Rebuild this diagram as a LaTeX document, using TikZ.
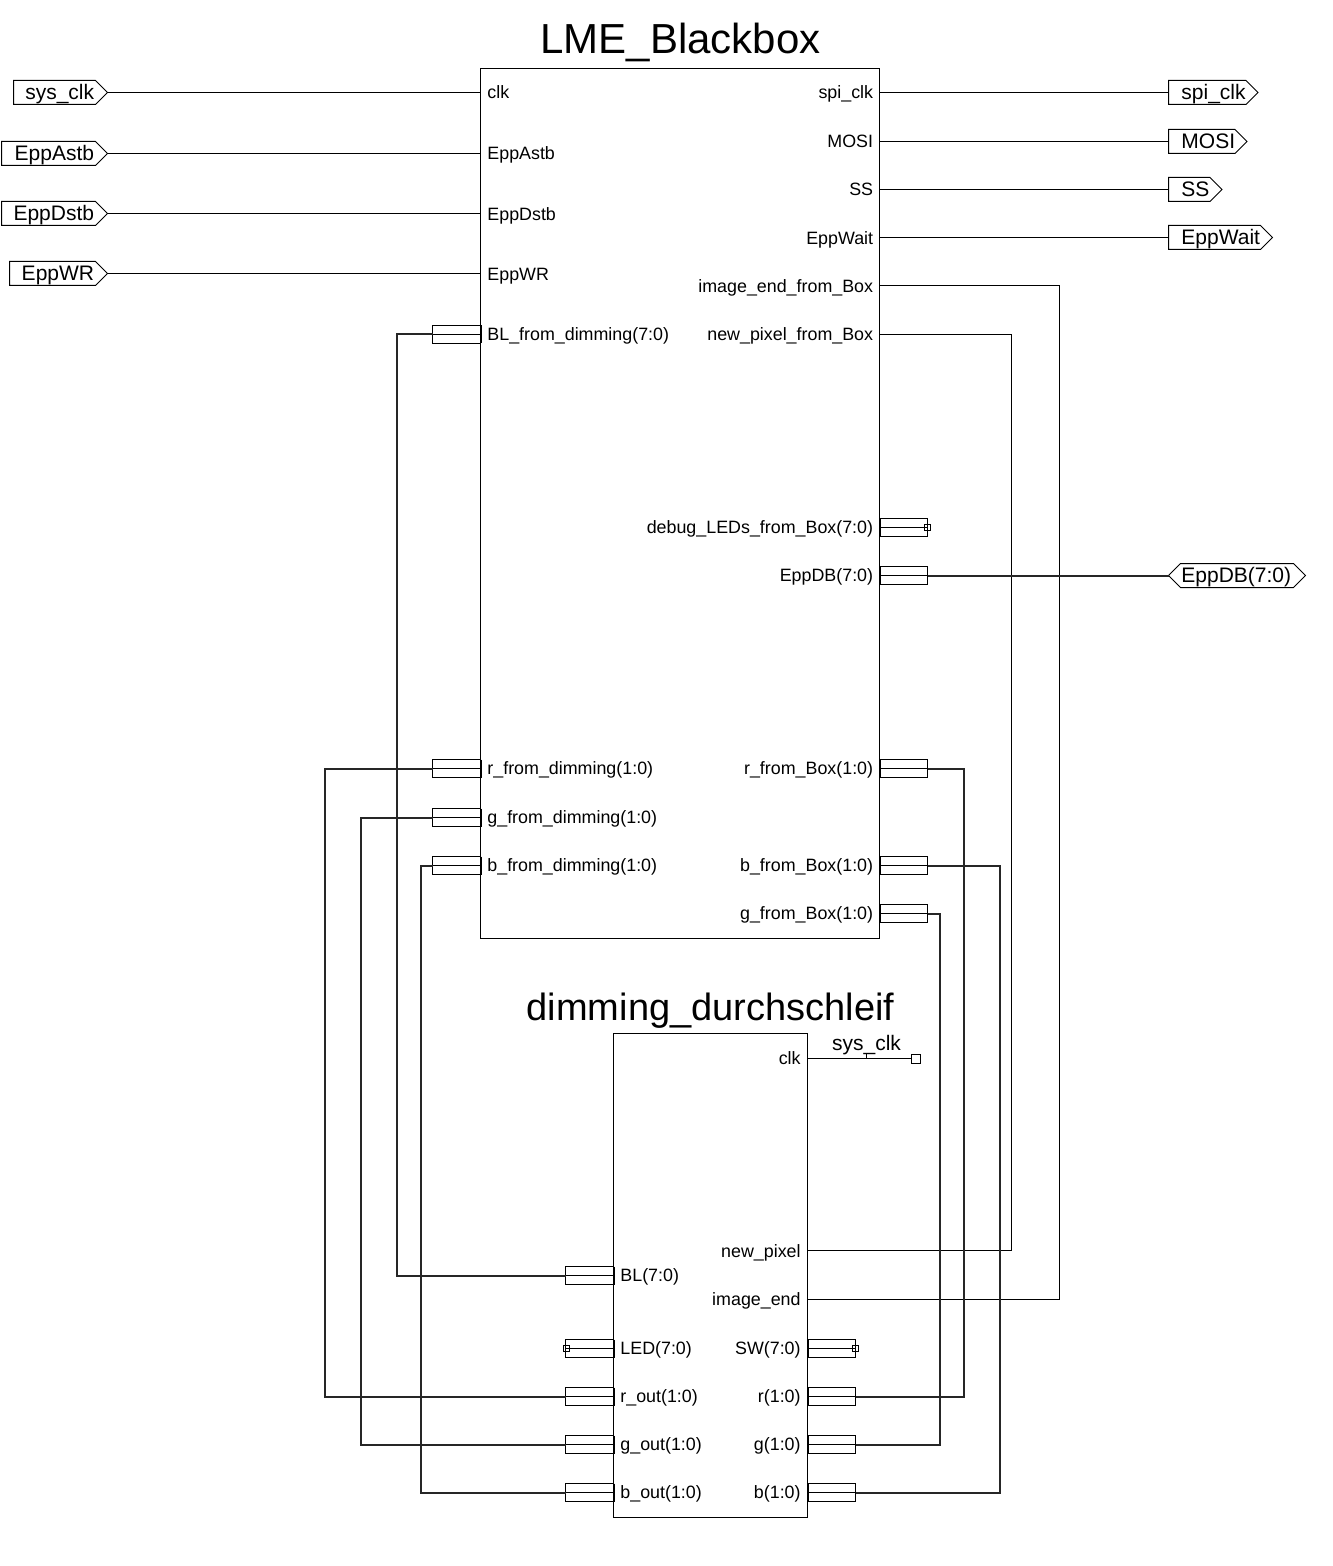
\documentclass[tikz,border=0pt]{standalone}
\usepackage{fontspec}
\setmainfont{Liberation Sans}
\tikzset{
  thinwire/.style={line width=0.5pt,black},
  buswire/.style={line width=1pt,black!85},
  blockbox/.style={draw,line width=0.5pt,inner sep=0pt,outer sep=0pt,fill=white},
  stubbox/.style={draw,line width=0.5pt,inner sep=0pt,outer sep=0pt,minimum width=24pt,minimum height=9pt,fill=white},
  endsq/.style={draw,line width=0.5pt,inner sep=0pt,outer sep=0pt,minimum size=4pt,fill=none},
  flagline/.style={draw,line width=0.5pt,fill=white},
  portL/.style={anchor=base west,inner sep=0pt,font=\fontsize{8.93}{9}\selectfont},
  portR/.style={anchor=base east,inner sep=0pt,font=\fontsize{8.93}{9}\selectfont},
  flagtext/.style={anchor=base,inner sep=0pt,font=\fontsize{10.5}{10.5}\selectfont},
  bigtitle/.style={anchor=base,inner sep=0pt,font=\fontsize{21}{21}\selectfont},
  midtitle/.style={anchor=base,inner sep=0pt,font=\fontsize{19}{19}\selectfont},
}
% stub outside the left edge of a block: #1 name, #2 block edge x, #3 y
\newcommand{\stubL}[3]{%
  \node[stubbox] (#1) at (#2-24.5,#3) {};
  \draw[line width=0.5pt] (#1.west) -- (#1.east);
  \draw[line width=1pt] (#1.north east) -- (#1.south east);
}
% stub outside the right edge of a block
\newcommand{\stubR}[3]{%
  \node[stubbox] (#1) at (#2+24,#3) {};
  \draw[line width=0.5pt] (#1.west) -- (#1.east);
  \draw[line width=1pt] (#1.north west) -- (#1.south west);
}
% input flag: #1 name, #2 left, #3 y, #4 text; tip at 107, text ends at 94
\newcommand{\flagIn}[4]{%
  \draw[flagline] (#2,#3-12) -- (95.5,#3-12) -- (107.5,#3) -- (95.5,#3+12) -- (#2,#3+12) -- cycle;
  \coordinate (#1) at (107.5,#3);
  \node[anchor=base east,inner sep=0pt,font=\fontsize{10.5}{10.5}\selectfont] (#1t) at (94.5,#3+7.5) {#4};
}
% output flag: #1 name, #2 shoulder, #3 y, #4 text; left at 1168
\newcommand{\flagOut}[4]{%
  \draw[flagline] (1168.5,#3-12) -- (#2,#3-12) -- (#2+12,#3) -- (#2,#3+12) -- (1168.5,#3+12) -- cycle;
  \coordinate (#1) at (1168.5,#3);
  \node[anchor=base west,inner sep=0pt,font=\fontsize{10.5}{10.5}\selectfont] (#1t) at (1181,#3+7.5) {#4};
}
\begin{document}
\begin{tikzpicture}[x=0.5pt,y=-0.5pt]
\path[fill=white,use as bounding box] (0,0) rectangle (1332,1566);

% blocks
\node[blockbox,minimum width=199.5pt,minimum height=435pt] (box) at (680,503.5) {};
\node[blockbox,minimum width=97pt,minimum height=242pt] (dim) at (710.5,1275.5) {};
\node[bigtitle] (boxtitle) at (680.5,54) {LME\_Blackbox};
\node[midtitle] (dimtitle) at (710.5,1020) {dimming\_durchschleif};

% flags
\flagIn{fclk}{13.5}{92.5}{sys\_clk}
\flagIn{fastb}{1.5}{153.5}{EppAstb}
\flagIn{fdstb}{1.5}{213.5}{EppDstb}
\flagIn{fwr}{9.5}{273.5}{EppWR}
\flagOut{fspi}{1246}{92.5}{spi\_clk}
\flagOut{fmosi}{1235}{141.5}{MOSI}
\flagOut{fss}{1210}{189.5}{SS}
\flagOut{fwait}{1260.5}{237.5}{EppWait}
\draw[flagline] (1168.5,575.5) -- (1180.5,563.5) -- (1293.5,563.5) -- (1305.5,575.5) -- (1293.5,587.5) -- (1180.5,587.5) -- cycle;
\coordinate (fdb) at (1168.5,575.5);
\node[flagtext,anchor=base west] (fdbt) at (1181,582.5) {EppDB(7:0)};

% pin anchors on the blocks
\coordinate (pclk) at (480.5,92.5);
\coordinate (pastb) at (480.5,153.5);
\coordinate (pdstb) at (480.5,213.5);
\coordinate (pwr) at (480.5,273.5);
\coordinate (pspi) at (879.5,92.5);
\coordinate (pmosi) at (879.5,141.5);
\coordinate (pss) at (879.5,189.5);
\coordinate (pwait) at (879.5,237.5);
\coordinate (pimg) at (879.5,285.5);
\coordinate (pnew) at (879.5,334.5);
\coordinate (dclk) at (807.5,1058.5);
\coordinate (dnew) at (807.5,1250.5);
\coordinate (dimg) at (807.5,1299.5);

% stubs
\stubL{sbl}{481}{334.5}
\stubL{srd}{481}{768.5}
\stubL{sgd}{481}{817.5}
\stubL{sbd}{481}{865.5}
\stubR{sdbg}{879.5}{527.5}
\stubR{sdb}{879.5}{575.5}
\stubR{srb}{879.5}{768.5}
\stubR{sbb}{879.5}{865.5}
\stubR{sgb}{879.5}{913.5}
\stubL{dbl}{614}{1275.5}
\stubL{dled}{614}{1348.5}
\stubL{drout}{614}{1396.5}
\stubL{dgout}{614}{1444.5}
\stubL{dbout}{614}{1492.5}
\stubR{dsw}{807.5}{1348.5}
\stubR{dr}{807.5}{1396.5}
\stubR{dg}{807.5}{1444.5}
\stubR{db}{807.5}{1492.5}

% open ends
\node[endsq,minimum size=3pt] (qdbg) at (927.5,527.5) {};
\node[endsq,minimum size=3pt] (qled) at (566.5,1348.5) {};
\node[endsq,minimum size=3pt] (qsw) at (855.5,1348.5) {};
\node[endsq,minimum size=4.5pt] (qclk) at (915.5,1058.5) {};

% routing rails
\coordinate (vbl) at (396.5,0);
\coordinate (vrd) at (324.5,0);
\coordinate (vgd) at (360.5,0);
\coordinate (vbd) at (420.5,0);
\coordinate (vrb) at (963.5,0);
\coordinate (vbb) at (999.5,0);
\coordinate (vgb) at (939.5,0);
\coordinate (vimg) at (1059.5,0);
\coordinate (vnew) at (1011.5,0);

% single wires
\draw[thinwire] (fclk) -- (pclk);
\draw[thinwire] (fastb) -- (pastb);
\draw[thinwire] (fdstb) -- (pdstb);
\draw[thinwire] (fwr) -- (pwr);
\draw[thinwire] (pspi) -- (fspi);
\draw[thinwire] (pmosi) -- (fmosi);
\draw[thinwire] (pss) -- (fss);
\draw[thinwire] (pwait) -- (fwait);
\draw[thinwire] (pimg) -- (pimg -| vimg) -- (vimg |- dimg) -- (dimg);
\draw[thinwire] (pnew) -- (pnew -| vnew) -- (vnew |- dnew) -- (dnew);
\draw[thinwire] (dclk) -- (qclk.west);

% bus wires
\draw[buswire] (sdb.east) -- (fdb);
\draw[buswire] (sbl.west) -- (sbl.west -| vbl) -- (vbl |- dbl.west) -- (dbl.west);
\draw[buswire] (srd.west) -- (srd.west -| vrd) -- (vrd |- drout.west) -- (drout.west);
\draw[buswire] (sgd.west) -- (sgd.west -| vgd) -- (vgd |- dgout.west) -- (dgout.west);
\draw[buswire] (sbd.west) -- (sbd.west -| vbd) -- (vbd |- dbout.west) -- (dbout.west);
\draw[buswire] (srb.east) -- (srb.east -| vrb) -- (vrb |- dr.east) -- (dr.east);
\draw[buswire] (sbb.east) -- (sbb.east -| vbb) -- (vbb |- db.east) -- (db.east);
\draw[buswire] (sgb.east) -- (sgb.east -| vgb) -- (vgb |- dg.east) -- (dg.east);

% net label on clk
\node[flagtext] (clkname) at (866.5,1050) {sys\_clk};
\coordinate (clktick) at (866.5,1053);
\draw[thinwire] (clktick) -- (clktick |- dclk);

% port labels, LME_Blackbox left
\node[portL] (l1) at (487,99) {clk};
\node[portL] (l2) at (487,159.5) {EppAstb};
\node[portL] (l3) at (487,220.5) {EppDstb};
\node[portL] (l4) at (487,280.5) {EppWR};
\node[portL] (l5) at (487,340.5) {BL\_from\_dimming(7:0)};
\node[portL] (l6) at (487,774) {r\_from\_dimming(1:0)};
\node[portL] (l7) at (487,823) {g\_from\_dimming(1:0)};
\node[portL] (l8) at (487,871) {b\_from\_dimming(1:0)};
% port labels, LME_Blackbox right
\node[portR] (r1) at (873.5,99) {spi\_clk};
\node[portR] (r2) at (873.5,147.5) {MOSI};
\node[portR] (r3) at (873.5,195.5) {SS};
\node[portR] (r4) at (873.5,244.5) {EppWait};
\node[portR] (r5) at (873.5,292.5) {image\_end\_from\_Box};
\node[portR] (r6) at (873.5,340.5) {new\_pixel\_from\_Box};
\node[portR] (r7) at (873.5,533) {debug\_LEDs\_from\_Box(7:0)};
\node[portR] (r8) at (873.5,581) {EppDB(7:0)};
\node[portR] (r9) at (873.5,774) {r\_from\_Box(1:0)};
\node[portR] (r10) at (873.5,871) {b\_from\_Box(1:0)};
\node[portR] (r11) at (873.5,919) {g\_from\_Box(1:0)};
% port labels, dimming_durchschleif
\node[portR] (d1) at (801,1064) {clk};
\node[portR] (d2) at (801,1257) {new\_pixel};
\node[portR] (d3) at (801,1305) {image\_end};
\node[portR] (d4) at (801,1354) {SW(7:0)};
\node[portR] (d5) at (801,1402) {r(1:0)};
\node[portR] (d6) at (801,1450) {g(1:0)};
\node[portR] (d7) at (801,1498) {b(1:0)};
\node[portL] (d8) at (620,1281) {BL(7:0)};
\node[portL] (d9) at (620,1354) {LED(7:0)};
\node[portL] (d10) at (620,1402) {r\_out(1:0)};
\node[portL] (d11) at (620,1450) {g\_out(1:0)};
\node[portL] (d12) at (620,1498) {b\_out(1:0)};
\end{tikzpicture}
\end{document}
